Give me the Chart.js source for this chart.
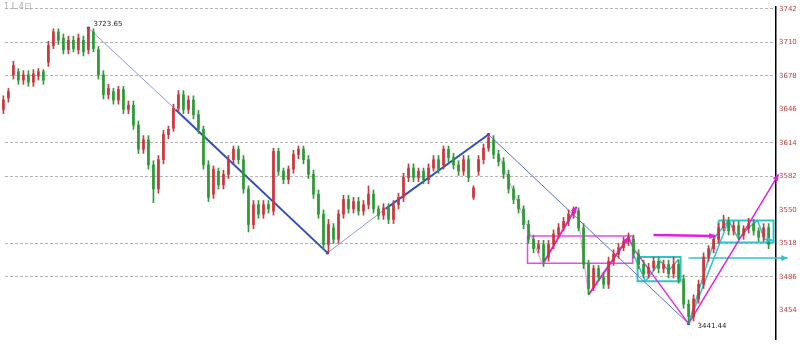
<!DOCTYPE html>
<html>
<head>
<meta charset="utf-8">
<script src="https://cdn.jsdelivr.net/npm/chart.js@4.4.1/dist/chart.umd.min.js"></script>
<style>
  html, body { margin: 0; padding: 0; background: #fff; }
  #wrap { width: 800px; height: 347px; }
</style>
</head>
<body>
<div id="wrap"><canvas id="myChart" width="800" height="347"></canvas></div>
<script>
// daily bars
const opens = [
  3646,3657,3679,3682,3674,3679,3672,3678,3682,3691,
  3707,3720,3714,3703,3712,3703,3712,3703,3720,3703,
  3679,3660,3663,3655,3665,3646,3650,3631,3608,3617,
  3593,3570,3598,3622,3628,3647,3660,3646,3655,3641,
  3627,3593,3565,3587,3574,3584,3598,3608,3598,3570,
  3536,3555,3546,3555,3549,3606,3587,3579,3589,3603,
  3608,3598,3584,3565,3546,3517,3533,3522,3546,3560,
  3551,3558,3549,3555,3565,3551,3545,3552,3541,3555,
  3562,3581,3590,3581,3587,3579,3590,3598,3593,3608,
  3600,3593,3587,3598,3562,3587,3598,3609,3617,3603,
  3596,3584,3570,3560,3551,3536,3522,3513,3517,3505,
  3517,3527,3533,3539,3546,3549,3533,3498,3476,3494,
  3486,3479,3501,3508,3514,3520,3522,3508,3498,3489,
  3495,3501,3494,3498,3489,3498,3484,3460,3448,3465,
  3479,3505,3513,3522,3533,3539,3530,3535,3526,3532,
  3537,3530,3524,3533
];
const closes = [
  3655,3663,3688,3674,3679,3672,3680,3682,3674,3707,
  3720,3712,3703,3712,3704,3714,3701,3722,3704,3679,
  3660,3666,3655,3665,3646,3650,3631,3608,3617,3593,
  3570,3598,3622,3627,3647,3660,3646,3655,3641,3627,
  3593,3562,3589,3574,3584,3598,3608,3598,3570,3536,
  3555,3546,3555,3551,3606,3587,3579,3589,3603,3608,
  3598,3584,3565,3546,3517,3536,3522,3546,3560,3551,
  3558,3549,3555,3565,3551,3545,3552,3541,3555,3562,
  3581,3590,3581,3587,3579,3590,3598,3589,3608,3600,
  3593,3587,3598,3581,3571,3598,3609,3619,3603,3596,
  3584,3570,3560,3551,3536,3522,3513,3517,3501,3517,
  3527,3533,3539,3546,3551,3533,3498,3475,3494,3486,
  3479,3501,3508,3514,3520,3524,3508,3498,3489,3495,
  3501,3494,3498,3489,3498,3484,3460,3448,3465,3479,
  3505,3513,3522,3533,3539,3530,3535,3526,3532,3537,
  3530,3524,3533,3517
];
const highs = [
  3659,3666,3692,3685,3683,3683,3684,3685,3684,3711,
  3723,3723,3718,3716,3716,3718,3716,3723.65,3723,3706,
  3683,3670,3666,3668,3668,3654,3654,3635,3621,3621,
  3597,3602,3626,3630,3651,3664,3664,3659,3659,3645,
  3630,3597,3592,3590,3588,3602,3611,3611,3602,3573,
  3559,3559,3559,3559,3609,3609,3590,3592,3607,3611,
  3611,3602,3588,3569,3550,3541,3537,3550,3564,3564,
  3562,3562,3559,3573,3569,3554,3556,3556,3559,3566,
  3585,3594,3594,3590,3590,3594,3602,3602,3611,3611,
  3604,3597,3602,3602,3573,3602,3613,3622,3621,3607,
  3600,3588,3573,3564,3554,3540,3526,3521,3521,3521,
  3531,3537,3543,3550,3553,3552,3537,3502,3497,3497,
  3490,3505,3512,3518,3524,3528,3526,3512,3502,3499,
  3505,3505,3502,3502,3505,3502,3488,3464,3469,3483,
  3509,3516,3526,3537,3545,3543,3539,3539,3535,3542,
  3541,3533,3537,3537
];
const lows = [
  3642,3653,3675,3670,3670,3668,3668,3674,3670,3687,
  3704,3708,3699,3699,3701,3699,3697,3699,3701,3675,
  3656,3656,3651,3651,3642,3642,3627,3604,3604,3589,
  3557,3566,3594,3618,3625,3644,3642,3642,3637,3623,
  3589,3558,3561,3570,3570,3580,3594,3594,3566,3529,
  3532,3542,3542,3547,3545,3583,3575,3575,3585,3599,
  3594,3580,3561,3542,3513,3509,3518,3518,3542,3547,
  3547,3545,3545,3551,3547,3541,3541,3537,3537,3551,
  3558,3577,3577,3577,3575,3575,3587,3585,3589,3596,
  3589,3583,3583,3577,3560,3583,3594,3606,3599,3592,
  3580,3566,3556,3547,3532,3518,3509,3509,3496,3501,
  3513,3523,3530,3535,3542,3530,3494,3469,3473,3482,
  3475,3475,3497,3504,3511,3516,3504,3494,3485,3485,
  3492,3490,3490,3485,3485,3480,3456,3441.44,3444,3461,
  3475,3501,3509,3518,3530,3526,3526,3522,3522,3528,
  3526,3520,3520,3513
];

// price axis
const tickValues = [3454, 3486, 3518, 3550, 3582, 3614, 3646, 3678, 3710, 3742];
const unlinedTicks = [3454, 3550, 3646];

// hand-drawn analysis lines (bar index, price)
const pivots = [{x:17, y:3723.65}, {x:64.8, y:3509}, {x:97, y:3622}, {x:137, y:3441.44}];
const blueThin1 = [{x:17, y:3723.65}, {x:34.4, y:3646}];
const blueThick1 = [{x:34.4, y:3646}, {x:64.8, y:3509}];
const blueThin2 = [{x:64.8, y:3509}, {x:76.4, y:3551}];
const blueThick2 = [{x:76.4, y:3551}, {x:97, y:3622}];
const blueThin3 = [{x:97, y:3622}, {x:137, y:3441.44}];

const pinkA = [{x:99, y:3603}, {x:107.8, y:3498}];
const magentaB = [{x:107.8, y:3498}, {x:114.6, y:3553}];
const pinkC = [{x:114.6, y:3553}, {x:117, y:3469}];
const magentaD = [{x:117, y:3469}, {x:125, y:3524}];
const magentaE = [{x:125, y:3524}, {x:126, y:3513}, {x:137, y:3441.44}];
const magentaUp = [{x:137, y:3441.44}, {x:155, y:3584}];
const magentaBox = [{x:104.8, y:3525}, {x:125.8, y:3525}, {x:125.8, y:3499}, {x:104.8, y:3499}, {x:104.8, y:3525}];
const magentaFlat = [{x:130, y:3526}, {x:142.4, y:3525}];

const cyanBox1 = [{x:126.8, y:3505}, {x:135.4, y:3505}, {x:135.4, y:3482}, {x:126.8, y:3482}, {x:126.8, y:3505}];
const cyanBox2 = [{x:143, y:3540}, {x:154, y:3540}, {x:154, y:3519}, {x:143, y:3519}, {x:143, y:3540}];
const cyanFlat = [{x:137, y:3504}, {x:156.8, y:3504}];
const cyanZig1 = [{x:126, y:3507}, {x:128.4, y:3482}, {x:131.4, y:3501}, {x:133, y:3492}, {x:135, y:3503}];
const cyanUp1 = [{x:137, y:3441.44}, {x:142.4, y:3525}];
const cyanUp2 = [{x:137, y:3441.44}, {x:145, y:3540}];
const cyanZig2 = [{x:142.4, y:3525}, {x:145, y:3540}, {x:147, y:3522}, {x:149, y:3533}, {x:150.8, y:3540}, {x:152.2, y:3522}, {x:153.8, y:3521}];

const pivotLabels = [{x:17, y:3723.65, text:'3723.65', dx:5, dy:-4}, {x:137, y:3441.44, text:'3441.44', dx:9, dy:3}];
const cornerText = '1 L 4日';

const upColor = '#c8383c';
const downColor = '#2e9a36';
const colors = opens.map((o, i) => closes[i] >= o ? upColor : downColor);

function line(data, color, width, extra) {
    return Object.assign({
        type: 'line',
        data: data,
        borderColor: color,
        backgroundColor: color,
        borderWidth: width,
        pointRadius: 0,
        fill: false,
        tension: 0
    }, extra || {});
}

const overlay = {
    id: 'overlay',
    afterDatasetsDraw(chart) {
        const {ctx, scales: {x, y}} = chart;
        ctx.save();
        chart.data.datasets.forEach(ds => {
            if (!ds.arrow) return;
            const n = ds.data.length;
            const p1 = ds.data[n - 2], p2 = ds.data[n - 1];
            const x1 = x.getPixelForValue(p1.x), y1 = y.getPixelForValue(p1.y);
            const x2 = x.getPixelForValue(p2.x), y2 = y.getPixelForValue(p2.y);
            const a = Math.atan2(y2 - y1, x2 - x1);
            const len = 7;
            ctx.fillStyle = ds.borderColor;
            ctx.beginPath();
            ctx.moveTo(x2, y2);
            ctx.lineTo(x2 - len * Math.cos(a - 0.45), y2 - len * Math.sin(a - 0.45));
            ctx.lineTo(x2 - len * Math.cos(a + 0.45), y2 - len * Math.sin(a + 0.45));
            ctx.closePath();
            ctx.fill();
        });
        ctx.font = '7px "DejaVu Sans"';
        ctx.fillStyle = '#222';
        ctx.textBaseline = 'middle';
        pivotLabels.forEach(p => {
            ctx.fillText(p.text, x.getPixelForValue(p.x) + p.dx, y.getPixelForValue(p.y) + p.dy);
        });
        ctx.fillStyle = '#aaa';
        ctx.font = '8px "DejaVu Sans"';
        ctx.fillText(cornerText, 4, 7);
        ctx.restore();
    }
};

const ctx = document.getElementById('myChart').getContext('2d');

new Chart(ctx, {
    type: 'bar',
    data: {
        datasets: [
            {
                type: 'bar',
                data: opens.map((o, i) => ({x: i, y: [lows[i], highs[i]]})),
                backgroundColor: colors,
                barThickness: 1,
                grouped: false,
                clip: false
            },
            {
                type: 'bar',
                data: opens.map((o, i) => ({x: i, y: [o, closes[i]]})),
                backgroundColor: colors,
                barThickness: 2,
                minBarLength: 1,
                grouped: false,
                clip: false
            },
            line(blueThin1, '#8a96d8', 1),
            line(blueThick1, '#2f4fc0', 2),
            line(blueThin2, '#8a96d8', 1),
            line(blueThick2, '#2f4fc0', 2),
            line(blueThin3, '#5a6cc8', 1),
            line(pinkA, '#f08cf0', 1),
            line(magentaB, '#e020e0', 2, {arrow: true}),
            line(pinkC, '#f08cf0', 1),
            line(magentaD, '#e020e0', 2, {arrow: true}),
            line(magentaE, '#e030e0', 1.5),
            line(magentaUp, '#e020e0', 1.5, {arrow: true, clip: false}),
            line(magentaBox, '#e050e0', 1.5),
            line(magentaFlat, '#e020e0', 2.5, {arrow: true}),
            line(cyanBox1, '#2cc4cc', 2),
            line(cyanBox2, '#2cc4cc', 2),
            line(cyanFlat, '#2cc4cc', 1.5, {arrow: true, clip: false}),
            line(cyanZig1, '#2cc4cc', 1.5),
            line(cyanUp1, '#2cc4cc', 1.5),
            line(cyanUp2, '#2cc4cc', 1.5),
            line(cyanZig2, '#2cc4cc', 1.5, {arrow: true}),
            {
                type: 'line',
                data: pivots,
                showLine: false,
                pointRadius: 1.5,
                pointStyle: 'rect',
                backgroundColor: '#2f4fc0',
                borderColor: '#2f4fc0'
            }
        ]
    },
    options: {
        responsive: false,
        animation: false,
        layout: {padding: 0},
        plugins: {
            legend: {display: false},
            tooltip: {enabled: false}
        },
        scales: {
            x: {
                type: 'linear',
                display: false,
                offset: false,
                min: 0.32,
                max: 154.48
            },
            y: {
                position: 'right',
                min: 3426,
                max: 3743.6,
                afterBuildTicks: scale => {
                    scale.ticks = tickValues.map(v => ({value: v}));
                },
                afterFit: scale => {
                    scale.width = 24;
                },
                grid: {
                    drawTicks: false,
                    lineWidth: 1,
                    color: c => (c.tick && unlinedTicks.includes(c.tick.value)) ? 'rgba(0,0,0,0)' : '#b4b4b4'
                },
                border: {
                    display: true,
                    color: '#000',
                    width: 1.5,
                    dash: [3, 2]
                },
                ticks: {
                    color: '#b04040',
                    padding: 3,
                    font: {size: 7, family: 'DejaVu Sans'},
                    callback: v => String(v)
                }
            }
        }
    },
    plugins: [overlay]
});
</script>
</body>
</html>
